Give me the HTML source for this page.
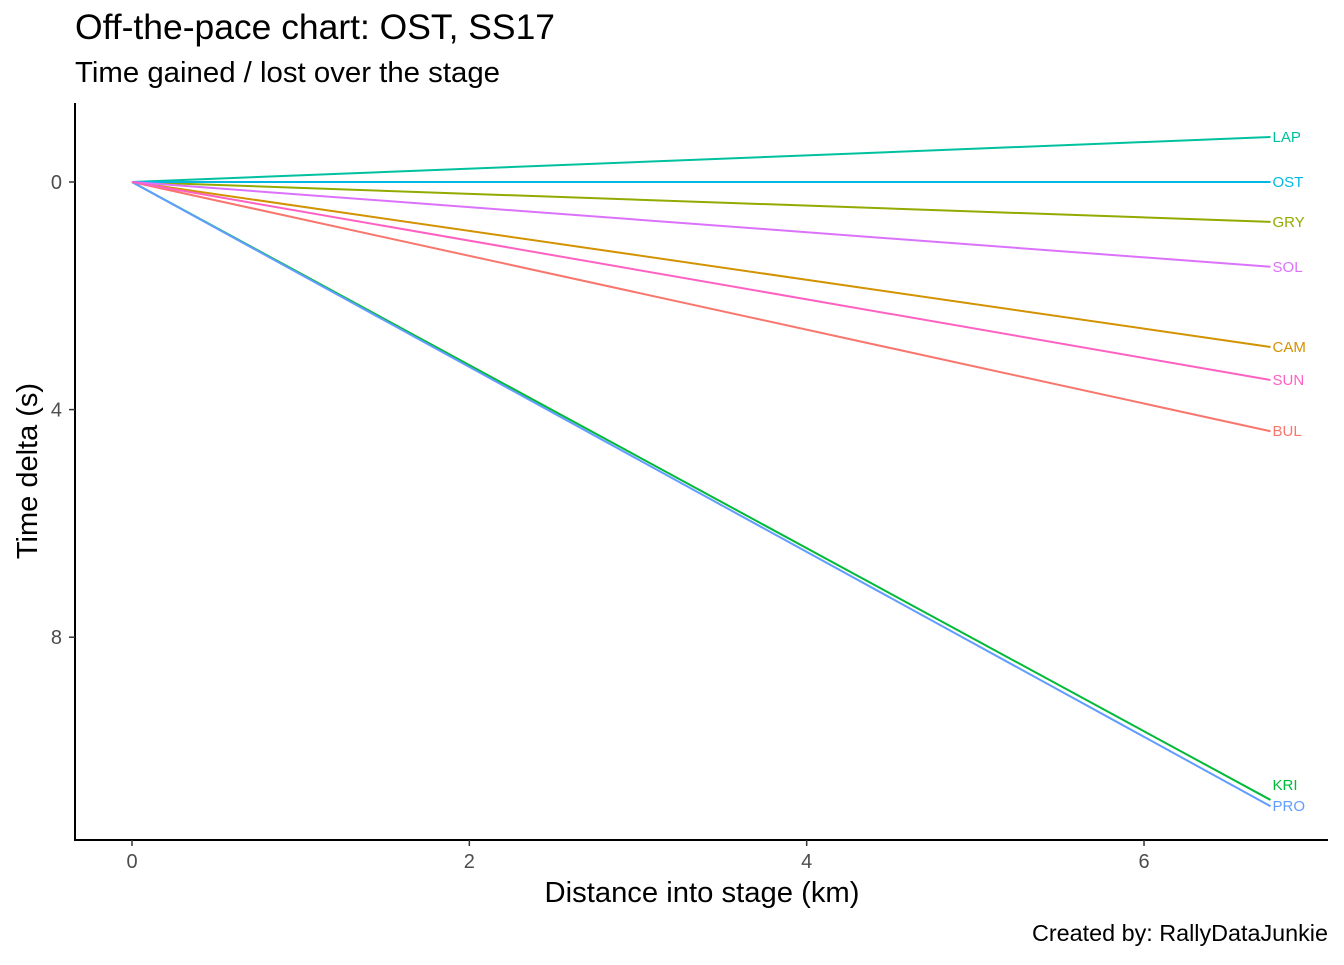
<!DOCTYPE html>
<html><head><meta charset="utf-8"><style>
body{margin:0;background:#fff;font-family:"Liberation Sans",Arial,sans-serif}
</style></head><body>
<svg id="chart" width="1344" height="960" xmlns="http://www.w3.org/2000/svg" font-family="Liberation Sans, Arial, sans-serif">
<rect width="1344" height="960" fill="#fff"/>
<text x="75" y="39" font-size="35" fill="#000" textLength="480" lengthAdjust="spacingAndGlyphs">Off-the-pace chart: OST, SS17</text>
<text x="75" y="82" font-size="29" fill="#000" textLength="425" lengthAdjust="spacingAndGlyphs">Time gained / lost over the stage</text>
<g id="plot"></g>
<text x="702" y="902" font-size="29" text-anchor="middle" textLength="315" lengthAdjust="spacingAndGlyphs">Distance into stage (km)</text>
<text transform="translate(37,471) rotate(-90)" font-size="29" text-anchor="middle">Time delta (s)</text>
<text x="1328" y="941" font-size="23" text-anchor="end" textLength="296" lengthAdjust="spacingAndGlyphs">Created by: RallyDataJunkie</text>
</svg>
<script>
const drivers = ["BUL","CAM","GRY","KRI","LAP","OST","PRO","SOL","SUN"];
const colors = ["#F8766D","#D39200","#93AA00","#00BA38","#00C19F","#00B9E3","#619CFF","#DB72FB","#FF61C3"];
const startDist = [0,0,0,0,0,0,0,0,0];
const startDelta = [0,0,0,0,0,0,0,0,0];
const endDist = [6.75,6.75,6.75,6.75,6.75,6.75,6.75,6.75,6.75];
const endDelta = [4.38,2.90,0.70,10.86,-0.79,0,10.97,1.49,3.48];
const xTicks = [0,2,4,6];
const yTicks = [0,4,8];

const NS="http://www.w3.org/2000/svg";
const xs = v => 132 + v*168.67;
const ys = v => 182 + v*56.9;
const g = document.getElementById('plot');
function mk(t,a){const e=document.createElementNS(NS,t);for(const k in a)e.setAttribute(k,a[k]);g.appendChild(e);return e;}

const xa = mk('line',{x1:74,x2:1328,y1:840,y2:840,stroke:'#000','stroke-width':2});


const ya = mk('line',{x1:75,x2:75,y1:103,y2:841,stroke:'#000','stroke-width':2});



xTicks.forEach(t=>{
  const tk = mk('line',{x1:xs(t),x2:xs(t),y1:840,y2:846,stroke:'#333','stroke-width':1.5});
  
  
  const lb = mk('text',{x:xs(t),y:868,'font-size':20,'text-anchor':'middle',fill:'#4d4d4d'});
  lb.textContent=t;
  
  
});
yTicks.forEach(t=>{
  const tk = mk('line',{x1:69,x2:75,y1:ys(t),y2:ys(t),stroke:'#333','stroke-width':1.5});
  
  
  const lb = mk('text',{x:62,y:ys(t)+7,'font-size':20,'text-anchor':'end',fill:'#4d4d4d'});
  lb.textContent=t;
  
  
});

drivers.forEach((d,i)=>{
  const ln = mk('line',{x1:xs(startDist[i]),y1:ys(startDelta[i]),x2:xs(endDist[i]),y2:ys(endDelta[i]),stroke:colors[i],'stroke-width':2});
  
  
});
drivers.forEach((d,i)=>{
  let ly = ys(endDelta[i]);
  if(d==="KRI") ly -= 15;
  const lb = mk('text',{x:xs(endDist[i])+2,y:ly+5,'font-size':15,fill:colors[i]});
  lb.textContent=d;
  
  
});
</script>
</body></html>
